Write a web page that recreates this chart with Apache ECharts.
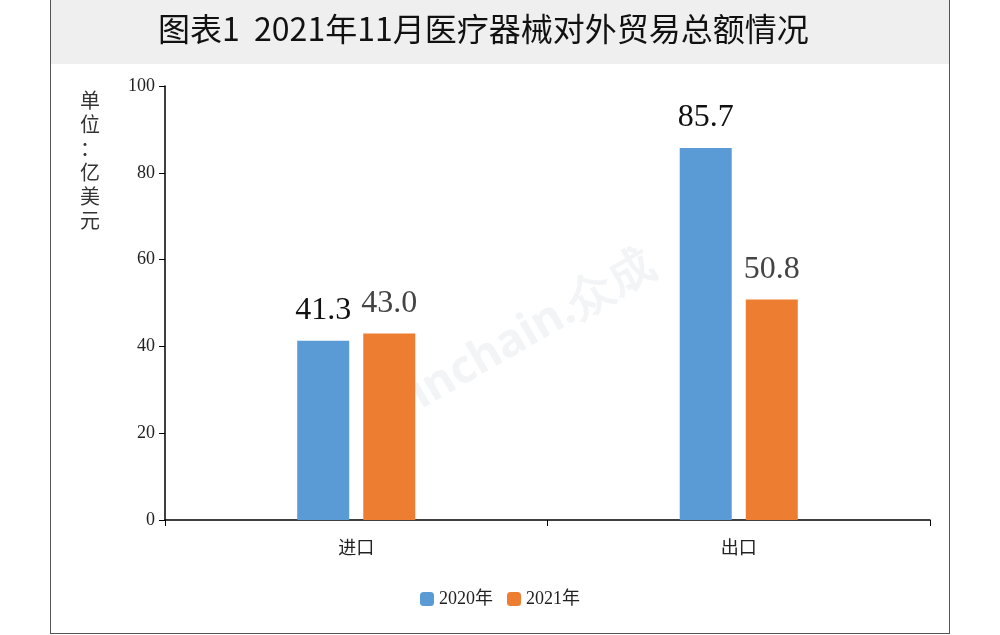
<!DOCTYPE html>
<html><head><meta charset="utf-8">
<script src="https://cdn.jsdelivr.net/npm/echarts@6/dist/echarts.min.js"></script>
<style>
html,body{margin:0;padding:0;background:#fff;}
#frame{position:absolute;left:50px;top:0;width:898px;height:633px;border:1px solid #555;border-top:none;}
#chart{position:absolute;left:0;top:0;width:1000px;height:635px;}
</style></head>
<body>
<div id="frame"></div>
<div id="chart"></div>
<script>
const categories = ['进口', '出口'];
const seriesNames = ['2020年', '2021年'];
const values2020 = [41.3, 85.7];
const values2021 = [43.0, 50.8];

const fmt = p => p.value.toFixed(1);
const chart = echarts.init(document.getElementById('chart'));
chart.setOption({
  animation: false,
  graphic: [
    { type: 'rect', shape: { x: 51, y: 0, width: 898, height: 64 }, style: { fill: '#efefef' } },
    { type: 'text', left: 158, top: 13, style: { text: '图表1  2021年11月医疗器械对外贸易总额情况', font: '32px "Noto Sans CJK SC"', fill: '#111' } },
    { type: 'text', left: 80, top: 88, style: { text: '单\n位\n：\n亿\n美\n元', font: '20px "Noto Sans CJK SC"', fill: '#333', lineHeight: 24 } },
    { type: 'text', x: 365, y: 400, rotation: Math.PI / 6, style: { text: 'Joinchain.众成', font: 'bold 46px "Noto Sans"', fill: 'rgba(200,205,215,0.22)' } }
  ],
  grid: { left: 165, right: 70, top: 86, bottom: 115 },
  legend: {
    bottom: 22, left: 'center', itemWidth: 14, itemHeight: 14, itemGap: 14,
    textStyle: { fontFamily: 'Liberation Serif, Noto Sans CJK SC', fontSize: 18, color: '#222' }
  },
  xAxis: {
    type: 'category', data: categories,
    axisLine: { lineStyle: { color: '#000', width: 1.5 } },
    axisTick: { show: true, alignWithLabel: false, length: 6, lineStyle: { color: '#000' } },
    axisLabel: { fontSize: 18, color: '#222', margin: 18, fontFamily: 'Noto Sans CJK SC' }
  },
  yAxis: {
    type: 'value', min: 0, max: 100, interval: 20,
    axisLine: { show: true, lineStyle: { color: '#000', width: 1.5 } },
    axisTick: { show: true, length: 6, lineStyle: { color: '#000' } },
    splitLine: { show: false },
    axisLabel: { fontSize: 18, color: '#222', fontFamily: 'Liberation Serif', margin: 10 }
  },
  series: [
    { name: seriesNames[0], type: 'bar', data: values2020, barWidth: 52, barGap: '27%',
      itemStyle: { color: '#5b9bd5' },
      label: { show: true, position: 'top', distance: 14, fontSize: 32, color: '#111', fontFamily: 'Liberation Serif', formatter: fmt } },
    { name: seriesNames[1], type: 'bar', data: values2021, barWidth: 52,
      itemStyle: { color: '#ed7d31' },
      label: { show: true, position: 'top', distance: 14, fontSize: 32, color: '#444', fontFamily: 'Liberation Serif', formatter: fmt } }
  ]
});
</script>
</body></html>
